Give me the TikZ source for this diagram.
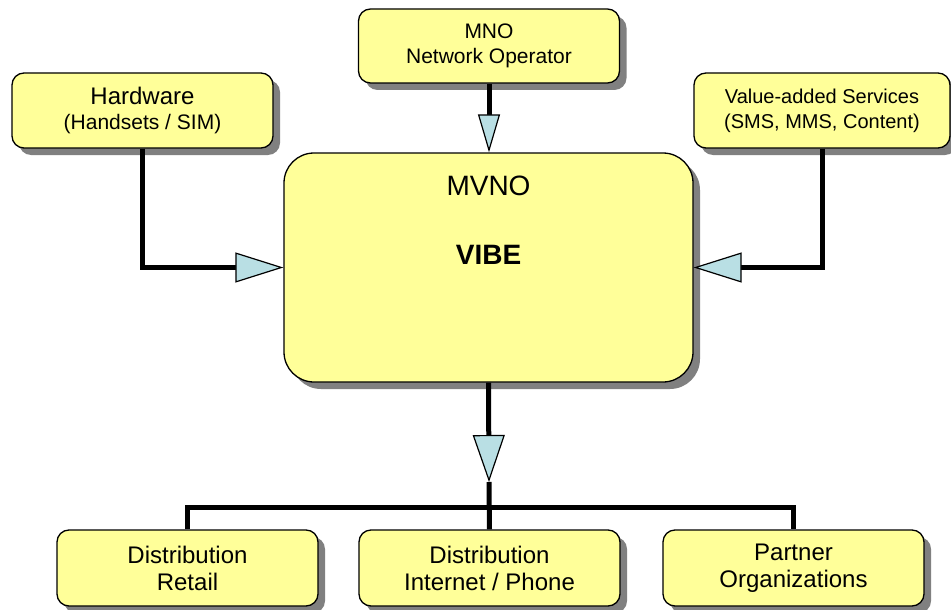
\documentclass[tikz,border=0pt]{standalone}
\usepackage{fontspec}
\setmainfont{Liberation Sans}
\usetikzlibrary{arrows.meta,shadows,positioning}
\definecolor{boxyellow}{RGB}{255,255,153}
\definecolor{tipblue}{RGB}{185,223,228}
\definecolor{shadowgray}{RGB}{128,128,128}

\begin{document}
\begin{tikzpicture}[
    x=1pt, y=-1pt,
    box/.style={draw, fill=boxyellow, rounded corners=12pt, line width=1.3pt,
        minimum width=261pt, minimum height=75pt, align=center,
        font=\fontsize{24}{27}\selectfont,
        drop shadow={shadow xshift=7pt, shadow yshift=-7pt, fill=shadowgray, opacity=1}},
    link/.style={line width=5pt},
    tip/.style 2 args={-{Triangle[length=#1, width=#2, fill=tipblue, line width=1.2pt]}}
]

    \useasboundingbox (0,0) rectangle (951,610);

    % Boxes
    \node[box, minimum width=409pt, minimum height=229pt, rounded corners=30pt] (vibe) at (488.5,267.5) {};
    \node[font=\fontsize{28}{28}\selectfont] (mvno) at ([yshift=-34pt]vibe.north) {MVNO};
    \node[font=\fontsize{28}{28}\selectfont\bfseries] (name) at ([yshift=-103pt]vibe.north) {VIBE};

    \node[box] (hw) at (142.5,110.5) {Hardware\\[-2pt]{\fontsize{21}{23}\selectfont (Handsets / SIM)}};
    \node[box, minimum height=74pt, font=\fontsize{21}{25}\selectfont] (mno) at (489,46) {MNO\\Network Operator};
    \node[box, minimum width=256pt, font=\fontsize{20}{25}\selectfont] (vas) at (822,110.5) {Value-added Services\\(SMS, MMS, Content)};

    \node[box, minimum height=76pt] (ret) at (187.5,568) {Distribution\\Retail};
    \node[box, minimum height=76pt] (inet) at (489.5,568) {Distribution\\Internet / Phone};
    \node[box, minimum height=76pt] (part) at (793.5,568) {Partner\\Organizations};

    % Connectors
    \coordinate (down) at (489,482);
    \coordinate (bus) at (489,507);

    \draw[link, tip={38pt}{22pt}] (mno.south) -- (mno.south |- vibe.north);
    \draw[link, tip={48pt}{30pt}] (hw.south) |- (vibe.west);
    \draw[link, tip={48pt}{30pt}] (vas.south) |- (vibe.east);
    \draw[link, tip={47pt}{32pt}] (vibe.south) -- (down);
    \draw[link] (down) -- (inet.north);
    \draw[link] (ret.north) |- (bus) -| (part.north);

\end{tikzpicture}
\end{document}
